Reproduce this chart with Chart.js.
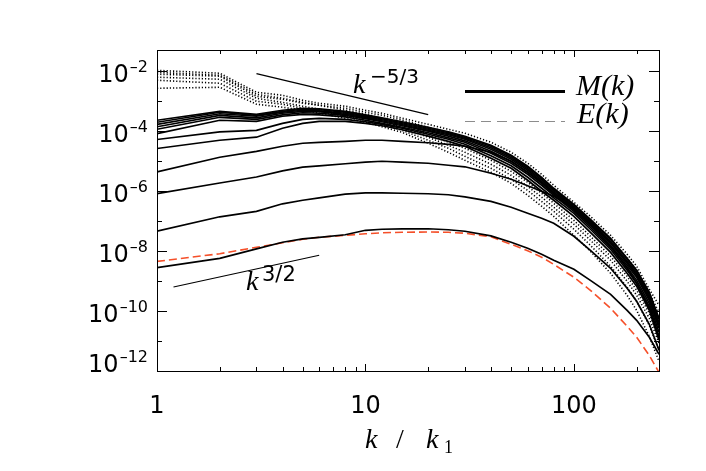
<!DOCTYPE html>
<html>
<head>
<meta charset="utf-8">
<script src="https://cdn.jsdelivr.net/npm/chart.js"></script>
<style>
    body{ margin: 0px; background: #ffffff; }
    #wrap{ width: 706px; height: 471px; }
</style>
</head>
<body>
<div id="wrap"><canvas id="myChart"></canvas></div>
<script>
// wavenumbers k / k1 where the spectra were read
var K = [1, 2, 3, 4, 5, 6, 8, 10, 12, 15, 20, 25, 30, 40, 50, 60, 70, 80, 100, 120, 150, 180, 200, 230, 256];

// M(k), solid lines, early times (low) to saturated (top band)
var S1 = [2.8e-9, 5.7e-9, 1.18e-8, 1.95e-8, 2.55e-8, 2.86e-8, 3.47e-8, 4.9e-8, 5.3e-8, 5.5e-8, 5.5e-8, 5.1e-8, 4.54e-8, 3.2e-8, 1.95e-8, 1.23e-8, 7.8e-9, 4.9e-9, 2.45e-9, 1.05e-9, 3.6e-10, 1.05e-10, 4.9e-11, 1.33e-11, 3.6e-12];
var S2 = [4.6e-8, 1.38e-7, 2.1e-7, 3.74e-7, 4.9e-7, 5.9e-7, 7.8e-7, 8.7e-7, 8.7e-7, 8.4e-7, 8.1e-7, 7.5e-7, 6.4e-7, 4.5e-7, 2.86e-7, 1.8e-7, 1.23e-7, 8.4e-8, 3.1e-8, 1.05e-8, 2.65e-9, 5.7e-10, 2.1e-10, 3.6e-11, 4.9e-12];
var S3 = [8.2e-7, 1.85e-6, 2.93e-6, 4.7e-6, 6.2e-6, 6.9e-6, 8.1e-6, 9.1e-6, 9.8e-6, 9.1e-6, 8.4e-6, 7.2e-6, 6.4e-6, 3.9e-6, 2.45e-6, 1.49e-6, 9.8e-7, 6.7e-7, 2.65e-7, 7.8e-8, 1.43e-8, 2.65e-9, 8.4e-10, 1.23e-10, 1.23e-11];
var S4 = [4.3e-6, 1.33e-5, 2.1e-5, 3.1e-5, 3.9e-5, 4.2e-5, 4.5e-5, 4.9e-5, 4.9e-5, 4.5e-5, 4.05e-5, 3.6e-5, 3.1e-5, 1.95e-5, 9.8e-6, 4.2e-6, 1.95e-6, 9.0e-7, 2.86e-7, 9.0e-8, 1.95e-8, 4.2e-9, 1.55e-9, 2.65e-10, 3.3e-11];
var U1 = [2.28e-4, 4.5e-4, 3.6e-4, 4.9e-4, 5.7e-4, 5.5e-4, 4.5e-4, 3.46e-4, 2.75e-4, 2.03e-4, 1.33e-4, 9.4e-5, 6.7e-5, 3.33e-5, 1.55e-5, 6.7e-6, 2.86e-6, 1.23e-6, 3.6e-7, 1.14e-7, 2.65e-8, 5.7e-9, 2.28e-9, 4.2e-10, 5.7e-11];
var U2 = [1.95e-4, 4.2e-4, 3.33e-4, 4.5e-4, 5.3e-4, 5.1e-4, 4.2e-4, 3.2e-4, 2.55e-4, 1.88e-4, 1.23e-4, 8.7e-5, 6.2e-5, 3.1e-5, 1.43e-5, 6.2e-6, 2.65e-6, 1.14e-6, 3.33e-7, 1.05e-7, 2.45e-8, 5.3e-9, 2.1e-9, 3.9e-10, 5.3e-11];
var U3 = [1.67e-4, 3.75e-4, 3.1e-4, 4.2e-4, 4.9e-4, 4.7e-4, 3.9e-4, 2.97e-4, 2.36e-4, 1.74e-4, 1.14e-4, 8.1e-5, 5.7e-5, 2.75e-5, 1.28e-5, 5.5e-6, 2.36e-6, 1.02e-6, 2.97e-7, 9.4e-8, 2.1e-8, 4.5e-9, 1.8e-9, 3.33e-10, 4.2e-11];
var U4 = [1.38e-4, 3.33e-4, 2.75e-4, 3.9e-4, 4.5e-4, 4.4e-4, 3.6e-4, 2.75e-4, 2.19e-4, 1.61e-4, 1.05e-4, 7.5e-5, 5.3e-5, 2.45e-5, 1.14e-5, 4.9e-6, 2.1e-6, 9.0e-7, 2.65e-7, 8.4e-8, 1.8e-8, 3.9e-9, 1.55e-9, 2.86e-10, 3.33e-11];
var U5 = [1.14e-4, 2.86e-4, 2.45e-4, 3.46e-4, 4.05e-4, 3.9e-4, 3.33e-4, 2.55e-4, 2.03e-4, 1.49e-4, 9.8e-5, 6.7e-5, 4.7e-5, 2.1e-5, 9.8e-6, 4.2e-6, 1.8e-6, 8.1e-7, 2.36e-7, 7.2e-8, 1.55e-8, 3.33e-9, 1.33e-9, 2.28e-10, 2.65e-11];
var U6 = [8.2e-5, 2.28e-4, 2.1e-4, 3.1e-4, 3.6e-4, 3.46e-4, 2.97e-4, 2.28e-4, 1.8e-4, 1.33e-4, 8.7e-5, 5.9e-5, 4.2e-5, 1.8e-5, 8.4e-6, 3.6e-6, 1.55e-6, 7.2e-7, 2.1e-7, 6.2e-8, 1.33e-8, 2.86e-9, 1.05e-9, 1.8e-10, 1.95e-11];
var U7 = [5.2e-5, 9.3e-5, 1.05e-4, 1.8e-4, 2.45e-4, 2.65e-4, 2.45e-4, 2.03e-4, 1.67e-4, 1.23e-4, 7.8e-5, 5.3e-5, 3.6e-5, 1.49e-5, 6.9e-6, 2.86e-6, 1.23e-6, 5.9e-7, 1.8e-7, 5.3e-8, 1.14e-8, 2.28e-9, 8.4e-10, 1.43e-10, 1.43e-11];
var U8 = [2.6e-5, 4.9e-5, 6.2e-5, 1.23e-4, 1.8e-4, 2.1e-4, 2.1e-4, 1.8e-4, 1.49e-4, 1.1e-4, 6.7e-5, 4.5e-5, 3.1e-5, 1.23e-5, 5.7e-6, 2.28e-6, 9.8e-7, 4.9e-7, 1.43e-7, 4.2e-8, 9.0e-9, 1.8e-9, 6.7e-10, 1.05e-10, 1.05e-11];

// E(k), dotted lines
var D1 = [1.05e-2, 8.4e-3, 1.95e-3, 1.55e-3, 1.05e-3, 8.4e-4, 6.7e-4, 4.9e-4, 3.9e-4, 2.65e-4, 1.67e-4, 1.14e-4, 8.4e-5, 4.2e-5, 1.95e-5, 8.4e-6, 3.6e-6, 1.55e-6, 4.2e-7, 1.43e-7, 3.33e-8, 7.8e-9, 3.1e-9, 5.3e-10, 1.55e-10];
var D2 = [7.8e-3, 6.7e-3, 1.43e-3, 1.14e-3, 8.4e-4, 7.2e-4, 5.7e-4, 4.2e-4, 3.33e-4, 2.28e-4, 1.33e-4, 9.0e-5, 6.2e-5, 3.1e-5, 1.43e-5, 6.2e-6, 2.65e-6, 1.14e-6, 3.1e-7, 1.05e-7, 2.45e-8, 5.7e-9, 2.28e-9, 3.9e-10, 9.0e-11];
var D3 = [9.0e-3, 7.2e-3, 1.67e-3, 1.23e-3, 9.0e-4, 7.2e-4, 4.9e-4, 3.6e-4, 2.65e-4, 1.67e-4, 7.8e-5, 4.2e-5, 2.65e-5, 1.05e-5, 4.5e-6, 1.95e-6, 8.4e-7, 3.9e-7, 1.05e-7, 3.1e-8, 6.7e-9, 1.43e-9, 4.9e-10, 8.4e-11, 1.23e-11];
var D4 = [6.2e-3, 5.3e-3, 1.23e-3, 9.0e-4, 6.7e-4, 5.3e-4, 3.9e-4, 2.86e-4, 2.1e-4, 1.33e-4, 6.2e-5, 3.33e-5, 1.95e-5, 7.8e-6, 3.33e-6, 1.43e-6, 6.2e-7, 2.86e-7, 7.8e-8, 2.28e-8, 4.9e-9, 9.8e-10, 3.33e-10, 5.7e-11, 8.4e-12];
var D5 = [4.9e-3, 3.9e-3, 9.8e-4, 7.8e-4, 5.7e-4, 4.5e-4, 3.1e-4, 2.28e-4, 1.67e-4, 1.05e-4, 4.9e-5, 2.65e-5, 1.43e-5, 5.7e-6, 2.45e-6, 1.05e-6, 4.5e-7, 2.1e-7, 5.3e-8, 1.55e-8, 3.1e-9, 6.2e-10, 2.1e-10, 3.33e-11, 4.9e-12];
var D6 = [2.65e-3, 2.86e-3, 7.8e-4, 6.2e-4, 4.9e-4, 3.9e-4, 2.65e-4, 1.95e-4, 1.38e-4, 9.0e-5, 3.9e-5, 1.95e-5, 1.05e-5, 4.2e-6, 1.8e-6, 7.2e-7, 3.1e-7, 1.43e-7, 3.33e-8, 9.8e-9, 1.8e-9, 3.33e-10, 1.05e-10, 1.43e-11, 2.1e-12];

// red dashed model curve
var RED = [4.5e-9, 8.1e-9, 1.33e-8, 1.87e-8, 2.45e-8, 2.86e-8, 3.33e-8, 3.74e-8, 4.05e-8, 4.2e-8, 4.3e-8, 4.2e-8, 3.9e-8, 2.97e-8, 1.67e-8, 1.02e-8, 6.2e-9, 3.6e-9, 1.33e-9, 4.9e-10, 1.23e-10, 3.1e-11, 1.33e-11, 3.3e-12, 9e-13];

// slope guides
var slopeK53 = [{x: 3, y: 8.2e-3}, {x: 20, y: 3.5e-4}];
var slopeK32 = [{x: 1.2, y: 6.3e-10}, {x: 6, y: 7.2e-9}];

// ticks
var xMajor = [1, 10, 100];
var xMinor = [2, 3, 4, 5, 6, 7, 8, 9, 20, 30, 40, 50, 60, 70, 80, 90, 200];
var yMajor = [1e-12, 1e-10, 1e-8, 1e-6, 1e-4, 1e-2];
var yMinor = [1e-11, 1e-9, 1e-7, 1e-5, 1e-3];

function pts(vals){
    return K.map(function(k, i){ return {x: k, y: vals[i]}; });
}

var datasets = [];
[S1, S2, S3, S4, U8, U7, U6, U5, U4, U3, U2, U1].forEach(function(s){
    datasets.push({data: pts(s), borderColor: '#000', borderWidth: 1.7});
});
[D1, D2, D3, D4, D5, D6].forEach(function(s){
    datasets.push({data: pts(s), borderColor: '#000', borderWidth: 1.6, borderDash: [1.2, 2]});
});
datasets.push({data: pts(RED), borderColor: '#f5502a', borderWidth: 1.6, borderDash: [8, 4]});
datasets.push({data: slopeK53, borderColor: '#000', borderWidth: 1.2});
datasets.push({data: slopeK32, borderColor: '#000', borderWidth: 1.2});

var SANS = '"DejaVu Sans", sans-serif';
var SERIF_I = '"Liberation Serif", serif';

var axesBox = {
    id: 'axesBox',
    afterDraw: function(chart){
        var ctx = chart.ctx, a = chart.chartArea;
        var xs = chart.scales.x, ys = chart.scales.y;
        ctx.save();
        ctx.strokeStyle = '#000';
        ctx.lineWidth = 1;
        ctx.strokeRect(a.left + 0.5, a.top + 0.5, a.right - a.left, a.bottom - a.top);

        function xtick(v, len){
            var px = Math.round(xs.getPixelForValue(v)) + 0.5;
            ctx.beginPath();
            ctx.moveTo(px, a.bottom); ctx.lineTo(px, a.bottom - len);
            ctx.moveTo(px, a.top); ctx.lineTo(px, a.top + len);
            ctx.stroke();
        }
        function ytick(v, len){
            var py = Math.round(ys.getPixelForValue(v)) + 0.5;
            ctx.beginPath();
            ctx.moveTo(a.left, py); ctx.lineTo(a.left + len, py);
            ctx.moveTo(a.right, py); ctx.lineTo(a.right - len, py);
            ctx.stroke();
        }
        xMajor.forEach(function(v){ xtick(v, 7); });
        xMinor.forEach(function(v){ xtick(v, 4); });
        yMajor.forEach(function(v){ ytick(v, 10); });
        yMinor.forEach(function(v){ ytick(v, 5); });

        // x tick labels
        ctx.fillStyle = '#000';
        ctx.font = '24px ' + SANS;
        ctx.textAlign = 'center';
        ctx.textBaseline = 'alphabetic';
        xMajor.forEach(function(v){
            ctx.fillText(String(v), xs.getPixelForValue(v), 413);
        });

        // y tick labels 10^n
        ctx.textAlign = 'left';
        yMajor.forEach(function(v){
            var py = ys.getPixelForValue(v);
            var ex = '\u2013' + Math.abs(Math.round(Math.log10(v)));
            ctx.font = '16px ' + SANS;
            var w2 = ctx.measureText(ex).width;
            ctx.font = '24px ' + SANS;
            var w1 = ctx.measureText('10').width;
            var base = Math.min(py + 11, a.bottom + 1);
            var right = 148;
            ctx.fillText('10', right - w2 - 1 - w1, base);
            ctx.font = '16px ' + SANS;
            ctx.fillText(ex, right - w2, base - 10);
        });

        // x axis title  k / k1
        ctx.font = 'italic 28px ' + SERIF_I;
        ctx.fillText('k', 365, 448);
        ctx.fillText('k', 426, 448);
        ctx.font = '28px ' + SERIF_I;
        ctx.fillText('/', 396, 448);
        ctx.font = '18px ' + SERIF_I;
        ctx.fillText('1', 444, 453);

        // slope labels
        ctx.font = 'italic 28px ' + SERIF_I;
        ctx.fillText('k', 353, 93);
        ctx.fillText('k', 246, 290);
        ctx.font = '20px ' + SANS;
        ctx.fillText('\u22125/3', 370, 83);
        ctx.font = '21px ' + SANS;
        ctx.fillText('3/2', 262, 281);

        // legend
        ctx.lineWidth = 3;
        ctx.beginPath();
        ctx.moveTo(465, 91.5); ctx.lineTo(565, 91.5);
        ctx.stroke();
        ctx.lineWidth = 1;
        ctx.strokeStyle = '#8c8c8c';
        ctx.setLineDash([10, 6]);
        ctx.beginPath();
        ctx.moveTo(465, 121.5); ctx.lineTo(565, 121.5);
        ctx.stroke();
        ctx.setLineDash([]);
        ctx.font = 'italic 30px ' + SERIF_I;
        ctx.fillText('M(k)', 576, 95);
        ctx.fillText('E(k)', 577, 123);
        ctx.restore();
    }
};

var chart = new Chart(document.getElementById('myChart').getContext('2d'), {
    type: 'line',
    data: { datasets: datasets },
    options: {
        responsive: true,
        maintainAspectRatio: false,
        animation: false,
        events: [],
        layout: { padding: { left: 157, right: 47, top: 50, bottom: 100 } },
        elements: { point: { radius: 0 }, line: { tension: 0, fill: false } },
        plugins: { legend: { display: false }, tooltip: { enabled: false } },
        scales: {
            x: { type: 'logarithmic', min: 1, max: 256, display: false },
            y: { type: 'logarithmic', min: 1e-12, max: 0.05, display: false }
        }
    },
    plugins: [axesBox]
});
</script>
</body>
</html>
